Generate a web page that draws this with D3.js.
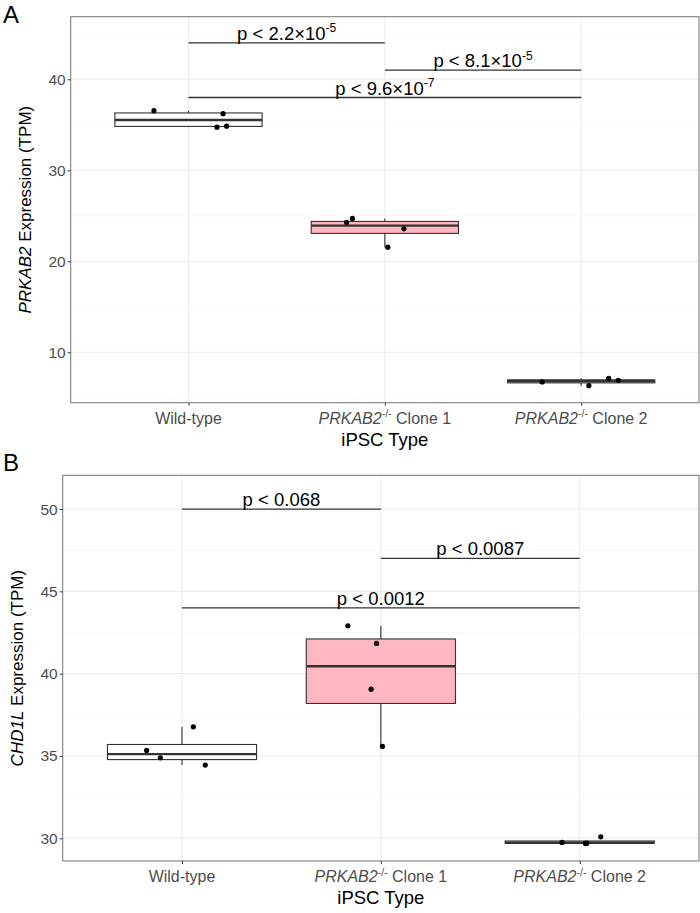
<!DOCTYPE html>
<html><head><meta charset="utf-8">
<script src="https://cdn.jsdelivr.net/npm/d3@7"></script>
<style>body{margin:0;background:#fff}svg{display:block;font-family:"Liberation Sans",Arial,sans-serif}</style>
</head><body><svg id="c" width="700" height="913"></svg>
<script>
// ---- data ----
const categories = ["Wild-type", "Clone 1", "Clone 2"];
const fills = ["#ffffff", "#ffb6c1", "#d9d9d9"];
// Panel A: PRKAB2 expression (TPM)
const aWild = [36.55, 36.22, 34.85, 34.74];
const aClone1 = [24.27, 24.71, 23.57, 21.55];
const aClone2 = [6.74, 6.33, 7.14, 6.92];
const aJitter = [[-0.176, 0.176, 0.194, 0.145], [-0.195, -0.165, 0.097, 0.015], [-0.199, 0.039, 0.14, 0.189]];
const aTicks = [10, 20, 30, 40];
const aSig = [{from: 0, to: 1, y: 44, base: "p < 2.2×10", exp: "-5"}, {from: 1, to: 2, y: 41, base: "p < 8.1×10", exp: "-5"}, {from: 0, to: 2, y: 38, base: "p < 9.6×10", exp: "-7"}];
// Panel B: CHD1L expression (TPM)
const bWild = [36.77, 35.34, 34.89, 34.45];
const bClone1 = [42.91, 41.84, 39.06, 35.58];
const bClone2 = [29.75, 29.69, 29.70, 30.09];
const bJitter = [[0.057, -0.178, -0.109, 0.117], [-0.166, -0.022, -0.049, 0.008], [-0.089, 0.029, 0.036, 0.106]];
const bTicks = [30, 35, 40, 45, 50];
const bSig = [{from: 0, to: 1, y: 50, base: "p < 0.068", exp: ""}, {from: 1, to: 2, y: 47, base: "p < 0.0087", exp: ""}, {from: 0, to: 2, y: 44, base: "p < 0.0012", exp: ""}];

const svg = d3.select("#c");

function panel(cfg) {
  const g = svg.append("g");
  // ggplot discrete axis: 0.6 expansion each side
  const unit = (cfg.right - cfg.left) / 3.2;
  const x = d3.scalePoint().domain(categories).range([cfg.left + 0.6 * unit, cfg.right - 0.6 * unit]);
  const cx = i => x(categories[i]);
  const y = d3.scaleLinear().domain(cfg.domain).range([cfg.bottom, cfg.top]);
  const W = cfg.right - cfg.left, H = cfg.bottom - cfg.top;
  // grid
  const minor = d3.range(Math.ceil(cfg.domain[0] / cfg.minorStep) * cfg.minorStep, cfg.domain[1], cfg.minorStep).filter(v => !cfg.ticks.includes(v));
  g.selectAll(".mn").data(minor).join("line").attr("x1", cfg.left).attr("x2", cfg.right)
    .attr("y1", d => y(d)).attr("y2", d => y(d)).attr("stroke", "#f2f2f2").attr("stroke-width", 0.6);
  g.selectAll(".mj").data(cfg.ticks).join("line").attr("x1", cfg.left).attr("x2", cfg.right)
    .attr("y1", d => y(d)).attr("y2", d => y(d)).attr("stroke", "#ebebeb").attr("stroke-width", 1.1);
  g.selectAll(".vx").data(categories).join("line").attr("x1", d => x(d)).attr("x2", d => x(d))
    .attr("y1", cfg.top).attr("y2", cfg.bottom).attr("stroke", "#ebebeb").attr("stroke-width", 1.1);
  // boxes
  const bw = unit * 0.75;
  cfg.series.forEach((vals, i) => {
    const s = vals.slice().sort(d3.ascending);
    const q1 = d3.quantile(s, 0.25), med = d3.quantile(s, 0.5), q3 = d3.quantile(s, 0.75);
    const iqr = q3 - q1;
    const lo = d3.min(s.filter(v => v >= q1 - 1.5 * iqr));
    const hi = d3.max(s.filter(v => v <= q3 + 1.5 * iqr));
    const c = cx(i);
    g.append("line").attr("x1", c).attr("x2", c).attr("y1", y(hi)).attr("y2", y(q3)).attr("stroke", "#333").attr("stroke-width", 1.1);
    g.append("line").attr("x1", c).attr("x2", c).attr("y1", y(q1)).attr("y2", y(lo)).attr("stroke", "#333").attr("stroke-width", 1.1);
    g.append("rect").attr("x", c - bw / 2).attr("width", bw).attr("y", y(q3)).attr("height", Math.max(0, y(q1) - y(q3)))
      .attr("fill", fills[i]).attr("stroke", "#333").attr("stroke-width", 1.1);
    g.append("line").attr("x1", c - bw / 2).attr("x2", c + bw / 2).attr("y1", y(med)).attr("y2", y(med)).attr("stroke", "#333").attr("stroke-width", 2.4);
    g.selectAll(null).data(vals).join("circle").attr("cx", (d, j) => c + cfg.jitter[i][j] * unit).attr("cy", d => y(d)).attr("r", 2.6).attr("fill", "#000");
  });
  // significance brackets
  cfg.sig.forEach(s => {
    g.append("line").attr("x1", cx(s.from)).attr("x2", cx(s.to)).attr("y1", y(s.y)).attr("y2", y(s.y)).attr("stroke", "#333").attr("stroke-width", 1.3);
    const t = g.append("text").attr("x", (cx(s.from) + cx(s.to)) / 2).attr("y", y(s.y) - 3).attr("text-anchor", "middle")
      .attr("font-size", 18.5).attr("fill", "#000");
    t.append("tspan").text(s.base);
    if (s.exp) t.append("tspan").attr("font-size", 12).attr("dy", -7.5).text(s.exp);
  });
  // border
  g.append("rect").attr("x", cfg.left).attr("y", cfg.top).attr("width", W).attr("height", H).attr("fill", "none").attr("stroke", "#7f7f7f").attr("stroke-width", 1.1);
  // y axis
  const ya = g.append("g").attr("transform", `translate(${cfg.left},0)`).call(d3.axisLeft(y).tickValues(cfg.ticks).tickSize(3).tickPadding(2));
  ya.select(".domain").remove();
  ya.selectAll("line").attr("stroke", "#333");
  ya.selectAll("text").attr("font-size", 15.5).attr("fill", "#4d4d4d").attr("font-family", "Liberation Sans, Arial, sans-serif");
  // x axis
  const xa = g.append("g").attr("transform", `translate(0,${cfg.bottom})`).call(d3.axisBottom(x).tickSize(3).tickFormat(""));
  xa.select(".domain").remove();
  xa.selectAll("line").attr("stroke", "#333");
  categories.forEach((c, i) => {
    const t = g.append("text").attr("x", cx(i)).attr("y", cfg.bottom + 21).attr("text-anchor", "middle").attr("font-size", 16).attr("fill", "#4d4d4d");
    if (i === 0) t.text(c);
    else {
      t.append("tspan").attr("font-style", "italic").text("PRKAB2");
      t.append("tspan").attr("font-size", 10.5).attr("dy", -6.5).text("-/-");
      t.append("tspan").attr("dy", 6.5).text(" " + c);
    }
  });
  g.append("text").attr("x", (cfg.left + cfg.right) / 2).attr("y", cfg.bottom + 43).attr("text-anchor", "middle").attr("font-size", 18.5).attr("fill", "#000").text("iPSC Type");
  const yt = g.append("text").attr("transform", `translate(${cfg.ytitleX},${(cfg.top + cfg.bottom) / 2}) rotate(-90)`)
    .attr("text-anchor", "middle").attr("font-size", 17).attr("fill", "#000");
  yt.append("tspan").attr("font-style", "italic").text(cfg.gene);
  yt.append("tspan").text(" Expression (TPM)");
  svg.append("text").attr("x", 3).attr("y", cfg.letterY).attr("font-size", 24).attr("fill", "#000").text(cfg.letter);
}

panel({left: 70.7, right: 699, top: 16.7, bottom: 402.7, domain: [4.46, 46.88], ticks: aTicks, minorStep: 5,
  series: [aWild, aClone1, aClone2], jitter: aJitter, sig: aSig, gene: "PRKAB2", ytitleX: 31, letter: "A", letterY: 23});
panel({left: 62.7, right: 699, top: 475.3, bottom: 861, domain: [28.62, 52.05], ticks: bTicks, minorStep: 2.5,
  series: [bWild, bClone1, bClone2], jitter: bJitter, sig: bSig, gene: "CHD1L", ytitleX: 23, letter: "B", letterY: 471});
</script></body></html>
